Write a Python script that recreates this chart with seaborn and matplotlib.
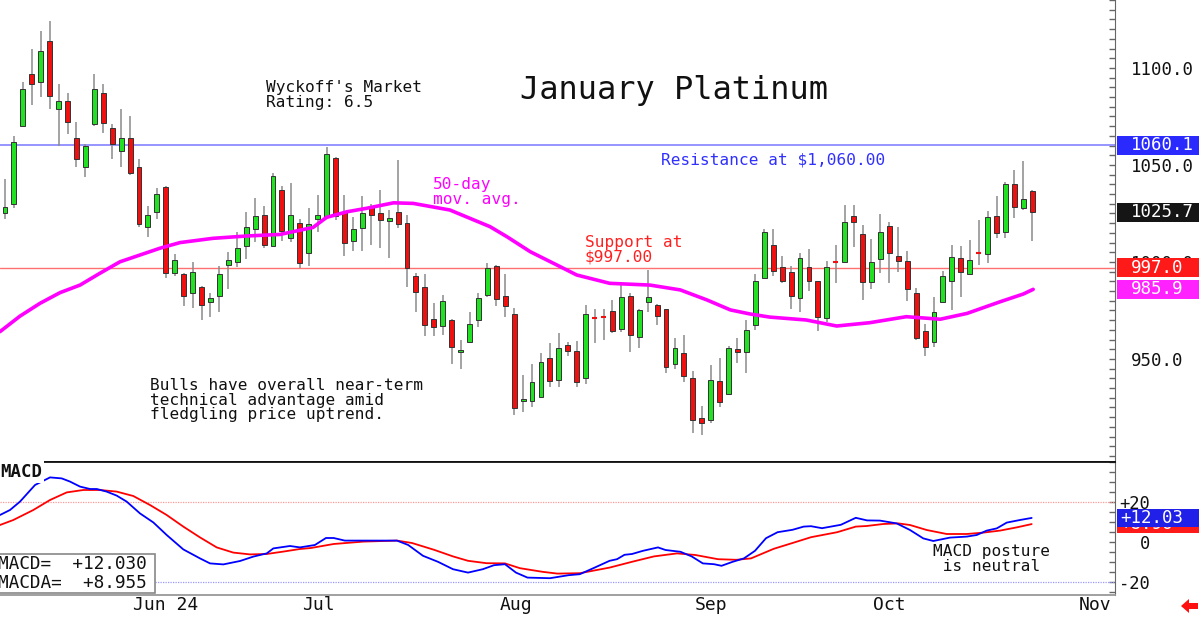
import matplotlib
matplotlib.use("Agg")
import matplotlib.pyplot as plt
from matplotlib.ticker import MultipleLocator, FixedLocator
from matplotlib.patches import Rectangle, Polygon
import matplotlib.transforms as mtransforms
import numpy as np
import seaborn as sns

# ---- daily candles (trading day index 0..115) ----
opens = [1025, 1030, 1070, 1097, 1093, 1114, 1079, 1083, 1064, 1049,
         1071, 1087, 1069, 1057, 1064, 1049, 1018, 1026, 1038.5, 994.5,
         994, 984, 987, 979.5, 982.6, 998.4, 1000, 1008.4, 1017, 1024,
         1008, 1037, 1012.5, 1020, 1004.5, 1022, 1023.4, 1053.4, 1026, 1011,
         1017.7, 1029, 1025.4, 1021.3, 1026, 1020, 992.8, 987, 970.5, 967.2,
         970, 953.7, 959, 970, 983, 998, 982.6, 973, 928.4, 928.4,
         930.6, 950.7, 939.2, 957, 954, 940, 971.3, 971.8, 974.7, 965.3,
         982.5, 961.5, 979.2, 977.8, 975.8, 947.3, 953, 940, 919.4, 918.6,
         938.6, 932, 955.2, 953.7, 967.5, 992, 1008.8, 997.3, 994.7, 981.3,
         997.3, 990.2, 971, 1000, 1000.2, 1023.7, 1014.4, 989.8, 1001.4, 1018.5,
         1003, 1000.5, 984.2, 964.4, 959, 979.6, 990.3, 1001.9, 993.8, 1004.5,
         1004, 1023.9, 1015.3, 1040.2, 1027.7, 1036.6]
highs = [1043, 1065, 1093, 1110, 1119, 1124, 1092, 1087, 1072, 1061,
         1097, 1092, 1071, 1079, 1075, 1053, 1029, 1038, 1039, 1004,
         994.5, 1000, 987.5, 984, 998, 1005, 1015.6, 1026, 1033, 1029,
         1046, 1039, 1040.6, 1022, 1027.7, 1034.5, 1059.5, 1054.3, 1034.5, 1023,
         1034, 1030, 1037, 1027, 1052.6, 1024, 994.5, 993.6, 979, 983,
         970.5, 960, 974.4, 984, 999.6, 998.4, 993.8, 976.4, 942, 947.3,
         953, 958, 963.3, 959, 959.4, 977.8, 976, 975.7, 980.4, 989,
         984.2, 976, 996, 978.4, 976, 961, 962.4, 943.8, 926, 947,
         950.7, 956.7, 960.6, 970, 993.6, 1017, 1017, 1003, 998, 1004.5,
         1006.5, 990.3, 1000.7, 1008.8, 1029.4, 1029.4, 1019, 1011.7, 1024.6, 1020.4,
         1018, 1005.8, 986.8, 968, 981.8, 995.5, 1008.8, 1008.3, 1011.3, 1021.6,
         1026.3, 1034, 1041, 1047.4, 1052, 1037]
lows = [1022, 1028, 1070, 1081, 1085, 1079, 1060, 1066, 1049, 1044,
        1070, 1066.5, 1053, 1049, 1045, 1018, 1013, 1022, 992, 993,
        977.5, 976.5, 970, 971.5, 974.4, 986, 997.3, 1001.4, 1010.5, 1007,
        1007.5, 1011, 1010.5, 996.8, 998, 1015.6, 1022, 1021.7, 1003, 1005.8,
        1005.8, 1008.8, 1007, 1002, 1017.4, 987, 974.4, 962, 962, 962.4,
        947.3, 945, 958.9, 966.6, 982, 977.3, 971.5, 921, 922.8, 925,
        930, 935.7, 935.4, 951.6, 935.7, 937, 958.1, 960, 963.2, 964,
        953.5, 955.8, 974, 967.5, 943, 944.7, 938.3, 912, 910.8, 917,
        925, 932, 948, 943, 965, 991.6, 993, 989.3, 976, 974.4,
        985, 964.6, 969.2, 989.3, 999.4, 1007.6, 980.4, 986, 994.5, 989,
        995, 980, 959.8, 951.7, 956.3, 979.6, 975.3, 982, 993.8, 998.5,
        999.4, 1012.5, 1012.5, 1022.5, 1027, 1011]
closes = [1028.5, 1062, 1089, 1092, 1109, 1085.5, 1083, 1072, 1053, 1060,
          1089, 1071.5, 1061, 1064, 1046, 1019.5, 1024, 1035, 994.5, 1001,
          982.6, 995, 978, 981.3, 993.6, 1001, 1007.4, 1018.2, 1023.7, 1009,
          1044.5, 1016, 1024, 999.4, 1019.4, 1024, 1055.5, 1023.7, 1009.6, 1017,
          1025, 1024, 1021.6, 1022.5, 1019.4, 997, 984.7, 967.5, 966.3, 980.1,
          956, 954.6, 968, 981.3, 996.7, 981, 977.3, 924.6, 929.4, 938.3,
          948.3, 938.6, 955.5, 954.3, 938.3, 973, 971.3, 971.8, 964.6, 981.8,
          962.4, 975, 981.8, 972.2, 946, 955.5, 941.2, 918.6, 917.2, 939.2,
          927.7, 955.8, 953.5, 964.9, 990.3, 1015.3, 995.5, 990.3, 982.5, 1002.2,
          990.3, 971.8, 997.3, 1000, 1020.6, 1020.4, 989.8, 999.8, 1015.3, 1004.5,
          1000.5, 985.9, 960.7, 956.3, 974.4, 993, 1002.7, 995, 1001, 1004.5,
          1023, 1015.1, 1040.1, 1028.2, 1032.3, 1025.7]

# ---- 50-day moving average ----
ma_x = [-0.56, 1.68, 3.92, 6.16, 8.4, 10.63, 12.87, 15.11, 17.35, 19.59,
        23.28, 27.06, 30.78, 34.48, 36.0, 38.3, 40.5, 43.5, 45.7, 49.8,
        54.3, 56.2, 58.8, 61.8, 64.0, 67.7, 72.2, 75.6, 78.6, 81.2,
        83.4, 85.6, 89.7, 93.1, 96.8, 100.9, 104.7, 107.7, 111.4, 114.0, 115.1]
ma_y = [964.1, 972.1, 978.7, 984.2, 988.1, 994.2, 1000.1, 1003.6, 1007.1, 1010.0,
        1012.2, 1013.4, 1014.2, 1017.8, 1023.0, 1025.9, 1027.7, 1030.5, 1030.2, 1026.8,
        1018.2, 1013.0, 1005.3, 998.4, 993.3, 989.0, 988.1, 985.6, 980.4, 975.3,
        973.2, 971.6, 970.1, 967.0, 968.7, 971.8, 970.5, 973.5, 979.5, 983.5, 985.9]

# ---- MACD (blue) and MACDA signal (red) ----
macd_x = [-0.56, 0.56, 1.68, 3.36, 5.04, 6.35, 7.28, 8.40, 9.52, 10.27,
          11.38, 12.50, 13.62, 15.11, 16.60, 18.10, 19.96, 21.83, 22.95, 24.44,
          26.31, 27.80, 29.30, 30.04, 31.90, 33.02, 34.69, 35.93, 36.79, 38.04,
          43.88, 45.14, 46.79, 48.47, 50.15, 51.83, 53.49, 54.74, 55.97, 57.20,
          58.49, 61.01, 63.09, 64.35, 66.01, 67.68, 68.51, 69.35, 70.19, 71.42,
          73.10, 73.94, 75.62, 76.87, 78.12, 79.37, 80.21, 81.46, 82.72, 83.96,
          85.19, 86.49, 88.16, 89.41, 90.23, 91.46, 93.57, 95.24, 96.50, 97.95,
          99.82, 101.31, 102.80, 103.92, 105.79, 107.66, 108.78, 109.90, 111.02, 112.14,
          113.62, 114.93]
macd_y = [13.5, 16, 20.2, 28.5, 32.3, 31.8, 30.2, 27.7, 26.5, 26.5,
          25.2, 23.2, 20.2, 14.3, 9.8, 3.5, -3.7, -8.2, -10.7, -11.2,
          -9.5, -7.3, -5.7, -3.2, -2.0, -2.7, -1.5, 2.0, 2.0, 0.7,
          0.7, -1.5, -6.9, -9.9, -13.6, -15.3, -13.6, -11.6, -11.1, -15.3,
          -17.8, -18.1, -16.6, -16.1, -12.8, -9.4, -8.6, -6.4, -6.0, -4.4,
          -2.7, -4.0, -4.9, -7.2, -10.7, -11.1, -11.9, -9.9, -8.2, -4.4,
          1.9, 4.9, 6.1, 7.7, 7.9, 6.9, 8.6, 12.1, 10.8, 10.7,
          9.3, 6.0, 1.8, 0.5, 2.2, 2.7, 3.5, 5.7, 6.8, 9.7,
          11.0, 12.03]
sig_x = [-0.56, 0.93, 3.17, 5.04, 6.91, 8.77, 10.63, 12.50, 14.36, 16.23,
         18.10, 19.96, 21.83, 23.70, 25.56, 27.43, 29.30, 31.15, 33.02, 34.25,
         36.79, 40.12, 43.88, 45.56, 48.03, 50.15, 51.83, 53.90, 55.97, 57.65,
         60.17, 61.84, 64.35, 67.68, 70.19, 72.65, 75.23, 77.29, 79.82, 81.88,
         83.51, 86.06, 88.16, 90.23, 93.16, 95.24, 96.46, 98.32, 99.99, 101.31,
         103.18, 105.42, 107.66, 109.52, 111.39, 113.25, 114.93]
sig_y = [8.5, 11, 16, 21, 24.8, 26, 26, 25.2, 23, 18.5,
         13.5, 7.7, 2.3, -2.7, -5.3, -6.2, -6.0, -4.8, -3.5, -3.0,
         -1.0, 0.2, 0.7, -0.5, -3.9, -7.2, -9.4, -10.6, -10.7, -13.1,
         -14.9, -15.8, -15.6, -12.8, -9.9, -7.2, -5.7, -6.5, -8.6, -8.9,
         -8.2, -3.4, -0.5, 2.4, 4.9, 7.7, 8.0, 9.0, 9.3, 8.5,
         6.0, 4.0, 4.0, 4.7, 5.7, 7.3, 8.955]

month_labels = ["Jun 24", "Jul", "Aug", "Sep", "Oct", "Nov"]
month_pos = [14.1, 33.0, 55.1, 77.0, 96.9, 119.9]

resistance = 1060.1
support = 997.0
last_close = 1025.7
last_ma = 985.9
macd_last = 12.03
macda_last = 8.955

sns.set_style("white")
plt.rcParams['font.family'] = ['DejaVu Sans Mono', 'DejaVu Sans']

W, H = 1200, 617
fig = plt.figure(figsize=(12, 6.17), dpi=100)
ax = fig.add_axes([0, (H - 462) / H, 1115 / W, 462 / H])
axm = fig.add_axes([0, (H - 595) / H, 1115 / W, 133 / H])

xlim = (-0.56, 124.26)

# ---------------- price panel ----------------
idx = np.arange(len(opens))
o, h, l, c = map(np.array, (opens, highs, lows, closes))
up = c > o
down = c < o
flat = c == o

ax.vlines(idx, l, h, color="#8a8a8a", lw=1.1, zorder=2)
ax.bar(idx[up], c[up] - o[up], bottom=o[up], width=0.55, color="#22e022",
       edgecolor="#333333", linewidth=0.7, zorder=3)
ax.bar(idx[down], o[down] - c[down], bottom=c[down], width=0.55, color="#f01010",
       edgecolor="#333333", linewidth=0.7, zorder=3)
ax.hlines(c[flat], idx[flat] - 0.3, idx[flat] + 0.3, color="#f01010", lw=1.5, zorder=3)

ax.axhline(resistance, color="#8c8cff", lw=1.3, zorder=1)
ax.axhline(support, color="#ff7070", lw=1.0, zorder=1)

sns.lineplot(x=ma_x, y=ma_y, ax=ax, color="#ff00ff", lw=2.6, sort=False,
             estimator=None, zorder=4)

ax.set_xlim(*xlim)
ax.set_ylim(896.9, 1135.05)
ax.set_xticks([])
ax.set_xlabel("")
ax.set_ylabel("")
for s in ("top", "left"):
    ax.spines[s].set_visible(False)
ax.spines["right"].set_color("#666666")
ax.spines["bottom"].set_color("#111111")
ax.spines["bottom"].set_linewidth(1.3)
ax.yaxis.tick_right()
ax.yaxis.set_major_locator(FixedLocator([950, 1000, 1050, 1100]))
ax.yaxis.set_minor_locator(MultipleLocator(5))
ax.set_yticklabels(["950.0", "1000.0", "1050.0", "1100.0"])
ax.tick_params(axis="y", which="both", direction="in", length=4, width=1,
               color="#666666", pad=11.5, labelsize=12.5, labelcolor="#111111")

blend = mtransforms.blended_transform_factory(ax.transAxes, ax.transData)
for val, col in [(resistance, "#2a2aff"), (last_close, "#151515"),
                 (support, "#ff1a1a"), (last_ma, "#ff22ff")]:
    ax.add_patch(Rectangle((1.0018, val - 4.9), 0.0735, 9.8, transform=blend,
                           facecolor=col, edgecolor="none", clip_on=False, zorder=10))
    ax.text(1.0143, val, f"{val:.1f}", transform=blend, color="white",
            fontsize=12.5, va="center", ha="left", clip_on=False, zorder=11)

# annotations
def fx(x):
    return x / W


def fy(y):
    return 1 - y / H


fig.text(fx(674), fy(90), "January Platinum", fontsize=23, ha="center",
         va="center", color="#111111")
fig.text(fx(266), fy(95), "Wyckoff's Market\nRating: 6.5", fontsize=11.6,
         ha="left", va="center", linespacing=1.0, color="#111111")
fig.text(fx(661), fy(160), "Resistance at $1,060.00", fontsize=11.6,
         ha="left", va="center", color="#3030ff")
fig.text(fx(433), fy(191.5), "50-day\nmov. avg.", fontsize=11.6, ha="left",
         va="center", linespacing=1.0, color="#ff00ff")
fig.text(fx(585), fy(249.5), "Support at\n$997.00", fontsize=11.6, ha="left",
         va="center", linespacing=1.0, color="#ff2020")
fig.text(fx(150), fy(400), "Bulls have overall near-term\ntechnical advantage amid\n"
         "fledgling price uptrend.", fontsize=11.6, ha="left", va="center",
         linespacing=1.0, color="#111111")

# ---------------- MACD panel ----------------
axm.axhline(20, color="#ff9a9a", lw=0.9, ls=(0, (1, 1)), zorder=1)
axm.axhline(-20, color="#9a9aff", lw=0.9, ls=(0, (1, 1)), zorder=1)
sns.lineplot(x=sig_x, y=sig_y, ax=axm, color="#ff0000", lw=1.3, sort=False,
             estimator=None, zorder=3)
sns.lineplot(x=macd_x, y=macd_y, ax=axm, color="#0000ff", lw=1.3, sort=False,
             estimator=None, zorder=4)

axm.set_xlim(*xlim)
axm.set_ylim(-26.5, 40)
axm.set_xlabel("")
axm.set_ylabel("")
axm.spines["left"].set_visible(False)
axm.spines["top"].set_color("#111111")
axm.spines["top"].set_linewidth(1.3)
axm.spines["right"].set_color("#666666")
axm.spines["bottom"].set_color("#999999")
axm.spines["bottom"].set_linewidth(1.3)
axm.yaxis.tick_right()
axm.yaxis.set_major_locator(FixedLocator([-20, 0, 20]))
axm.yaxis.set_minor_locator(MultipleLocator(5))
axm.set_yticklabels(["-20", "0", "+20"])
axm.tick_params(axis="y", which="both", direction="in", length=4, width=1,
                color="#666666", pad=25, labelsize=12.3, labelcolor="#111111")
for lbl in axm.get_yticklabels():
    lbl.set_horizontalalignment("right")

axm.set_xticks(month_pos)
axm.set_xticklabels([])
axm.tick_params(axis="x", direction="out", length=16.5, width=1.6, color="#aaaaaa")
bx = mtransforms.blended_transform_factory(axm.transData, axm.transAxes)
for m, lab in zip(month_pos, month_labels):
    axm.text(m + 0.25, -0.078, lab, transform=bx, fontsize=13, ha="left",
             va="center", color="#111111", clip_on=False)

blendm = mtransforms.blended_transform_factory(axm.transAxes, axm.transData)
axm.add_patch(Rectangle((1.0018, macda_last - 4.5), 0.0735, 9.0, transform=blendm,
                        facecolor="#ff1a1a", edgecolor="none", clip_on=False, zorder=10))
axm.text(1.0045, macda_last, f"+{macda_last:.2f}", transform=blendm, color="white",
         fontsize=12.5, va="center", ha="left", clip_on=False, zorder=11)
axm.add_patch(Rectangle((1.0018, macd_last - 4.5), 0.0735, 9.0, transform=blendm,
                        facecolor="#2020e8", edgecolor="none", clip_on=False, zorder=12))
axm.text(1.0045, macd_last, f"+{macd_last:.2f}", transform=blendm, color="white",
         fontsize=12.5, va="center", ha="left", clip_on=False, zorder=13)

# MACD labels
fig.text(fx(0), fy(472), "MACD", fontsize=12.5, fontweight="bold", ha="left",
         va="center", color="#111111",
         bbox=dict(facecolor="white", edgecolor="none", pad=1.5), zorder=20)
box = Rectangle((fx(-2), fy(593)), fx(157), (593 - 554) / H, transform=fig.transFigure,
                facecolor="white", edgecolor="#888888", lw=1.2, zorder=20)
fig.add_artist(box)
fig.text(fx(-2), fy(573.5), f"MACD=  +{macd_last:.3f}\nMACDA=  +{macda_last:.3f}",
         fontsize=12.8, ha="left", va="center", linespacing=1.05, color="#111111",
         zorder=21)
fig.text(fx(933), fy(559), "MACD posture\n is neutral", fontsize=11.6, ha="left",
         va="center", linespacing=1.0, color="#111111")

# red arrow bottom right
pts = [(1181, 606), (1189, 599), (1189, 603), (1198, 603), (1198, 609),
       (1189, 609), (1189, 613)]
fig.add_artist(Polygon([(fx(px), fy(py)) for px, py in pts], closed=True,
                       transform=fig.transFigure, facecolor="#ff1010",
                       edgecolor="none"))

fig.savefig("out.png", dpi=100)
